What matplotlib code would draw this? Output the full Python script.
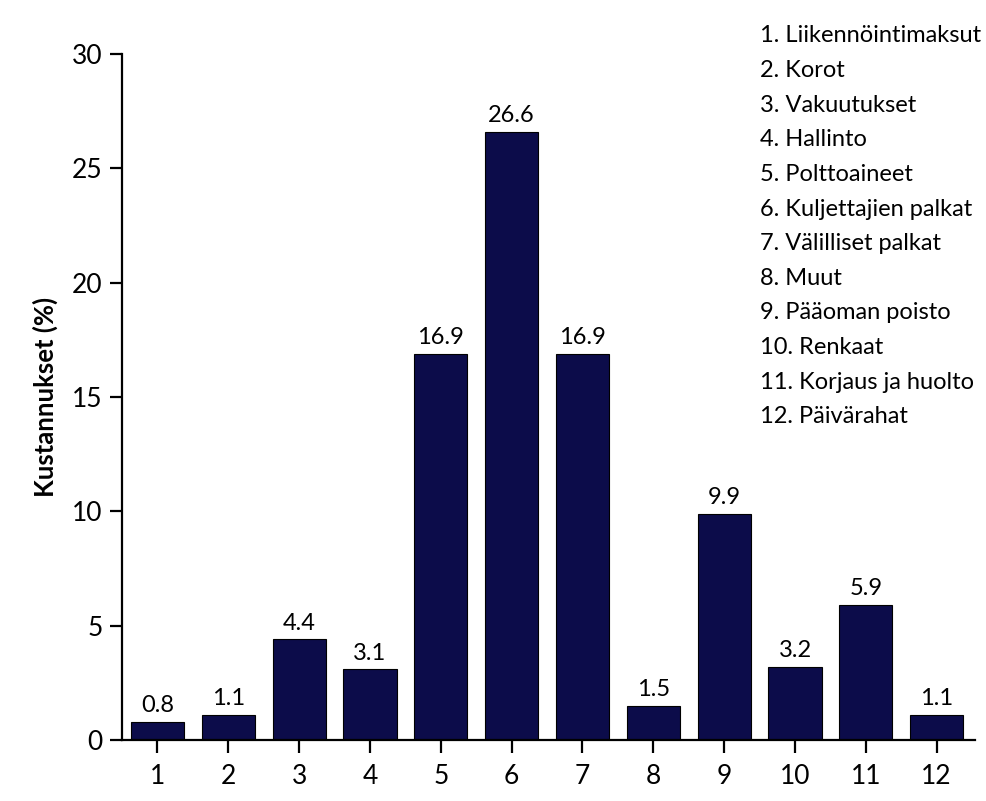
import matplotlib
matplotlib.use("Agg")
import matplotlib.pyplot as plt

categories = ["1", "2", "3", "4", "5", "6", "7", "8", "9", "10", "11", "12"]
values = [0.8, 1.1, 4.4, 3.1, 16.9, 26.6, 16.9, 1.5, 9.9, 3.2, 5.9, 1.1]
names = ["Liikennöintimaksut", "Korot", "Vakuutukset", "Hallinto", "Polttoaineet",
         "Kuljettajien palkat", "Välilliset palkat", "Muut", "Pääoman poisto",
         "Renkaat", "Korjaus ja huolto", "Päivärahat"]
y_ticks = [0, 5, 10, 15, 20, 25, 30]

plt.rcParams['font.family'] = ['Lato', 'DejaVu Sans']

fig = plt.figure(figsize=(9.87, 8.01), dpi=100)
ax = fig.add_axes([0.1236, 0.0762, 0.8642, 0.8564])

x = list(range(1, len(values) + 1))
bars = ax.bar(x, values, width=0.75, color="#0c0c4a", edgecolor="black", linewidth=0.8)

for xi, v in zip(x, values):
    ax.annotate(f"{v:.1f}", (xi, v), xytext=(0, 4), textcoords="offset points",
                ha="center", va="bottom", fontsize=17)

ax.set_xlim(0.5, 12.54)
ax.set_ylim(0, 30)
ax.set_xticks(x)
ax.set_xticklabels(categories, fontsize=19)
ax.set_yticks(y_ticks)
ax.set_yticklabels([str(t) for t in y_ticks], fontsize=19)
ax.tick_params(axis="both", direction="out", length=9, width=1.6, color="black")
ax.tick_params(axis="x", pad=8)
ax.tick_params(axis="y", pad=5)

for side in ["top", "right"]:
    ax.spines[side].set_visible(False)
for side in ["left", "bottom"]:
    ax.spines[side].set_linewidth(1.6)

ax.set_ylabel("Kustannukset (%)", fontsize=18.5, fontweight="bold", labelpad=10)

for i, name in enumerate(names):
    fig.text(760 / 987, 1 - (36 + i * 34.6) / 801, f"{i + 1}. {name}",
             fontsize=17, ha="left", va="center")

fig.savefig("out.png", dpi=100)
